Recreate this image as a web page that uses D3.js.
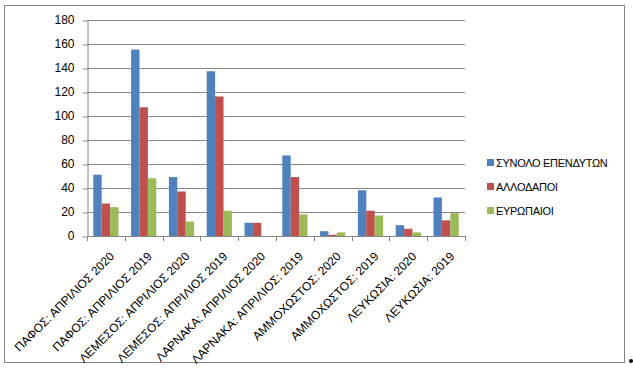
<!DOCTYPE html>
<html>
<head>
<meta charset="utf-8">
<script src="https://cdn.jsdelivr.net/npm/d3@7"></script>
<style>
  body { margin: 0; background: #fff; }
  svg { font-family: "Liberation Sans", Arial, sans-serif; }
</style>
</head>
<body>
<svg id="chart" width="633" height="371"></svg>
<script>
// data
const categories = [
    'ΠΑΦΟΣ: ΑΠΡΙΛΙΟΣ 2020', 'ΠΑΦΟΣ: ΑΠΡΙΛΙΟΣ 2019',
    'ΛΕΜΕΣΟΣ: ΑΠΡΙΛΙΟΣ 2020', 'ΛΕΜΕΣΟΣ: ΑΠΡΙΛΙΟΣ 2019',
    'ΛΑΡΝΑΚΑ: ΑΠΡΙΛΙΟΣ 2020', 'ΛΑΡΝΑΚΑ: ΑΠΡΙΛΙΟΣ: 2019',
    'ΑΜΜΟΧΩΣΤΟΣ: 2020', 'ΑΜΜΟΧΩΣΤΟΣ: 2019',
    'ΛΕΥΚΩΣΙΑ: 2020', 'ΛΕΥΚΩΣΙΑ: 2019'
];
const seriesNames = ['ΣΥΝΟΛΟ ΕΠΕΝΔΥΤΩΝ', 'ΑΛΛΟΔΑΠΟΙ', 'ΕΥΡΩΠΑΙΟΙ'];
const totalInvestors = [51, 155, 49, 137, 11, 67, 4, 38, 9, 32];
const foreigners = [27, 107, 37, 116, 11, 49, 1, 21, 6, 13];
const europeans = [24, 48, 12, 21, 0, 18, 3, 17, 3, 19];
const yTicks = [0, 20, 40, 60, 80, 100, 120, 140, 160, 180];

// colors
const BLUE = '#4F81BD';
const RED = '#C0504D';
const GREEN = '#9BBB59';
const GRID = '#868686';
const colors = [BLUE, RED, GREEN];

const series = [totalInvestors, foreigners, europeans];

// layout
const plotLeft = 87;
const plotRight = 465;
const plotTop = 19.5;
const plotBottom = 236;
const FONT_SIZE = 12;

const svg = d3.select('#chart');

// outer frame
svg.append('rect')
    .attr('x', 4.5).attr('y', 5.5)
    .attr('width', 620).attr('height', 357)
    .attr('fill', 'white')
    .attr('stroke', GRID);

const x = d3.scaleBand()
    .domain(categories)
    .range([plotLeft, plotRight])
    .paddingInner(0.333)
    .paddingOuter(0.1665);

const xBand = d3.scaleBand()
    .domain(categories)
    .range([plotLeft, plotRight]);

const xInner = d3.scaleBand()
    .domain([0, 1, 2])
    .range([0, x.bandwidth()]);

const y = d3.scaleLinear()
    .domain([0, 180])
    .range([plotBottom, plotTop]);

// gridlines
svg.append('g')
    .selectAll('line')
    .data(yTicks.slice(1))
    .join('line')
    .attr('x1', plotLeft).attr('x2', plotRight)
    .attr('y1', d => Math.round(y(d)) + 0.5)
    .attr('y2', d => Math.round(y(d)) + 0.5)
    .attr('stroke', GRID);

// y axis
const yAxis = svg.append('g')
    .attr('transform', `translate(${plotLeft + 0.5},0)`)
    .call(d3.axisLeft(y).tickValues(yTicks).tickSize(5).tickSizeOuter(0).tickPadding(8));
yAxis.select('.domain').attr('stroke', GRID);
yAxis.selectAll('.tick line').attr('stroke', GRID)
    .attr('transform', d => `translate(0,${Math.round(y(d)) + 0.5 - y(d)})`);
yAxis.selectAll('.tick text')
    .attr('font-size', FONT_SIZE)
    .attr('fill', '#000')
    .attr('font-family', '"Liberation Sans", Arial, sans-serif');

// bars
svg.append('g')
    .selectAll('g')
    .data(series)
    .join('g')
    .attr('fill', (d, i) => colors[i])
    .each(function (vals, si) {
        d3.select(this).selectAll('rect')
            .data(vals)
            .join('rect')
            .attr('x', (v, ci) => x(categories[ci]) + xInner(si))
            .attr('width', xInner.bandwidth())
            .attr('y', v => y(v))
            .attr('height', v => y(0) - y(v));
    });

// x axis
const xAxisLine = svg.append('g');
xAxisLine.append('line')
    .attr('x1', plotLeft).attr('x2', plotRight)
    .attr('y1', plotBottom + 0.5).attr('y2', plotBottom + 0.5)
    .attr('stroke', GRID);
xAxisLine.selectAll('.xtick')
    .data(categories.concat(['end']))
    .join('line')
    .attr('class', 'xtick')
    .attr('x1', (d, i) => Math.round(plotLeft + i * xBand.step()) + 0.5)
    .attr('x2', (d, i) => Math.round(plotLeft + i * xBand.step()) + 0.5)
    .attr('y1', plotBottom)
    .attr('y2', plotBottom + 5)
    .attr('stroke', GRID);

// rotated category labels
svg.append('g')
    .selectAll('text')
    .data(categories)
    .join('text')
    .attr('transform', d => `translate(${xBand(d) + xBand.bandwidth() / 2 + 9},${plotBottom + 21}) rotate(-45)`)
    .attr('text-anchor', 'end')
    .attr('font-size', FONT_SIZE)
    .text(d => d);

// legend
const legend = svg.append('g')
    .selectAll('g')
    .data(seriesNames)
    .join('g')
    .attr('transform', (d, i) => `translate(487,${159 + i * 24})`);

legend.append('rect')
    .attr('width', 7).attr('height', 7)
    .attr('fill', (d, i) => colors[i]);

legend.append('text')
    .attr('x', 9)
    .attr('y', 8)
    .attr('font-size', 11)
    .attr('letter-spacing', -0.3)
    .text(d => d);

// stray dot at the right edge
svg.append('circle')
    .attr('cx', 631).attr('cy', 361).attr('r', 2)
    .attr('fill', '#000');
</script>
</body>
</html>
